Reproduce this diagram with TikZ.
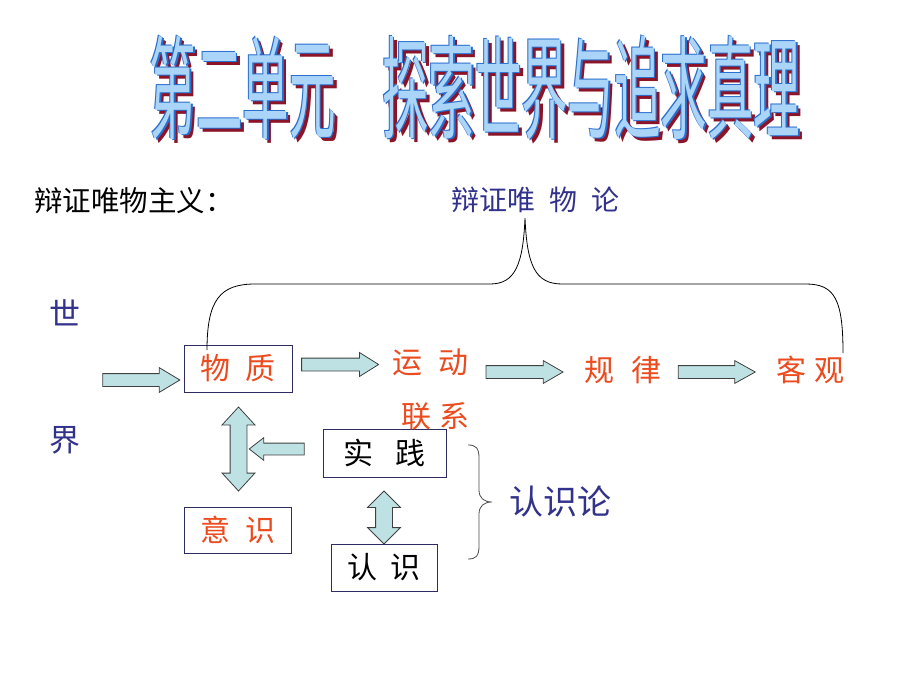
\documentclass[tikz,border=0pt]{standalone}
\usepackage{fontspec}
\setmainfont{Noto Sans CJK SC}
\usetikzlibrary{shapes.arrows}
\definecolor{navy}{RGB}{50,50,140}
\definecolor{redt}{RGB}{235,75,30}
\definecolor{arrowfill}{RGB}{190,226,228}
\definecolor{boxline}{RGB}{45,45,100}
\definecolor{ttlfill}{RGB}{170,212,248}
\definecolor{ttlline}{RGB}{40,110,205}
\definecolor{ttlshadow}{RGB}{140,20,40}
\newcommand\ttlraw{\scalebox{0.415}[1]{第二单元　探索世界与追求真理}}
\newcommand\ttlstack{%
  \rlap{\kern4pt\raisebox{-4pt}{\textcolor{ttlshadow}{\ttlraw}}}%
  \rlap{\kern1.5pt\raisebox{-1.5pt}{\textcolor{ttlline}{\ttlraw}}}%
  \rlap{\kern-1pt\raisebox{1pt}{\textcolor{ttlline}{\ttlraw}}}%
  \textcolor{ttlfill}{\ttlraw}}
\tikzset{
  ttl/.style={inner sep=0, font=\fontsize{112}{112}\selectfont},
  lbl/.style={inner sep=0, anchor=west, font=\fontsize{30}{30}\selectfont},
  redlbl/.style={lbl, text=redt},
  bluelbl/.style={lbl, text=navy},
  textbox/.style={draw=boxline, line width=0.8pt, inner sep=0, font=\fontsize{30}{30}\selectfont},
  blockarrow/.style={single arrow, draw=black!75, fill=arrowfill, line width=0.8pt,
    inner xsep=0, single arrow head indent=0pt},
  dblarrow/.style={double arrow, draw=black!75, fill=arrowfill, line width=0.8pt,
    inner xsep=0, double arrow head indent=0pt},
  bracel/.style={line width=0.8pt, draw=black},
}
\begin{document}
\begin{tikzpicture}[x=1pt,y=-1pt]
\useasboundingbox (0,0) rectangle (920,690);
\fill[white] (0,0) rectangle (920,690);

% title
\node[ttl] (ttl) at (475,89) {\ttlstack};

% headings
\node[lbl, font=\fontsize{28.5}{28.5}\selectfont] (dm) at (34,201) {辩证唯物主义：};
\node[bluelbl, font=\fontsize{28}{28}\selectfont] (dwl) at (451,200) {辩证唯\hspace{14pt}物\hspace{14pt}论};
\node[bluelbl, font=\fontsize{31}{31}\selectfont] (shi) at (49,313) {世};
\node[bluelbl, font=\fontsize{31}{31}\selectfont] (jie) at (49,440) {界};

% boxes
\node[textbox, text=redt, minimum width=108pt, minimum height=47pt] (wz) at (238,368.5) {物\hspace{15pt}质\hspace{15pt}};
\node[textbox, text=black, minimum width=123pt, minimum height=48pt] (sj) at (384.5,453) {实\hspace{22pt}践\hspace{21pt}};
\node[textbox, text=redt, minimum width=107pt, minimum height=46pt] (ys) at (237.5,530) {意\hspace{15pt}识\hspace{10pt}};
\node[textbox, text=black, minimum width=106pt, minimum height=47pt] (rs) at (384,567.5) {认\hspace{14pt}识\hspace{10pt}};

% red labels
\node[redlbl] (yd) at (392,362) {运\hspace{16pt}动};
\node[redlbl] (gl) at (584,370) {规\hspace{17pt}律};
\node[redlbl] (kg) at (776,370) {客\hspace{8pt}观};
\node[redlbl] (lx) at (401,416) {联\hspace{8pt}系};
\node[bluelbl, font=\fontsize{34}{34}\selectfont] (rsl) at (509,502) {认识论};

% block arrows
\node[blockarrow, minimum height=77pt, inner ysep=6pt, single arrow head extend=6pt, single arrow tip angle=62] (a1) at (136,380) {};
\node[blockarrow, minimum height=77pt, inner ysep=6pt, single arrow head extend=5.5pt, single arrow tip angle=64] (a2) at (335,364.5) {};
\node[blockarrow, minimum height=77pt, inner ysep=6pt, single arrow head extend=5pt, single arrow tip angle=60] (a3) at (519,372) {};
\node[blockarrow, minimum height=77pt, inner ysep=6pt, single arrow head extend=5pt, single arrow tip angle=58] (a4) at (711,372) {};
\node[blockarrow, shape border rotate=180, minimum height=55pt, inner ysep=5.5pt, single arrow head extend=5.5pt, single arrow tip angle=76] (a5) at (280.5,449) {};
\node[dblarrow, rotate=90, minimum height=84pt, inner ysep=8pt, double arrow head extend=8pt, double arrow tip angle=85] (d1) at (238.5,449) {};
\node[dblarrow, rotate=90, minimum height=53pt, inner ysep=8pt, double arrow head extend=8pt, double arrow tip angle=90] (d2) at (384,517.5) {};

% top brace
\coordinate (btip) at (525,218);
\coordinate (bl) at (207,350);
\coordinate (br) at (843,353);
\draw[bracel] (bl) .. controls (207,300) and (220,284) .. (255,284) -- (490,284)
  .. controls (515,284) and (523,265) .. (btip)
  .. controls (527,265) and (535,284) .. (562,284) -- (806,284)
  .. controls (835,284) and (843,300) .. (br);

% right brace
\coordinate (rbt) at (468,445);
\coordinate (rbm) at (492,502);
\coordinate (rbb) at (468,559);
\draw[line width=0.8pt, draw=black!70] (rbt) .. controls (476,445) and (479,448) .. (479,458)
  -- (479,490) .. controls (479,498) and (484,502) .. (rbm)
  .. controls (484,502) and (479,506) .. (479,514)
  -- (479,546) .. controls (479,556) and (476,559) .. (rbb);
\end{tikzpicture}
\end{document}
